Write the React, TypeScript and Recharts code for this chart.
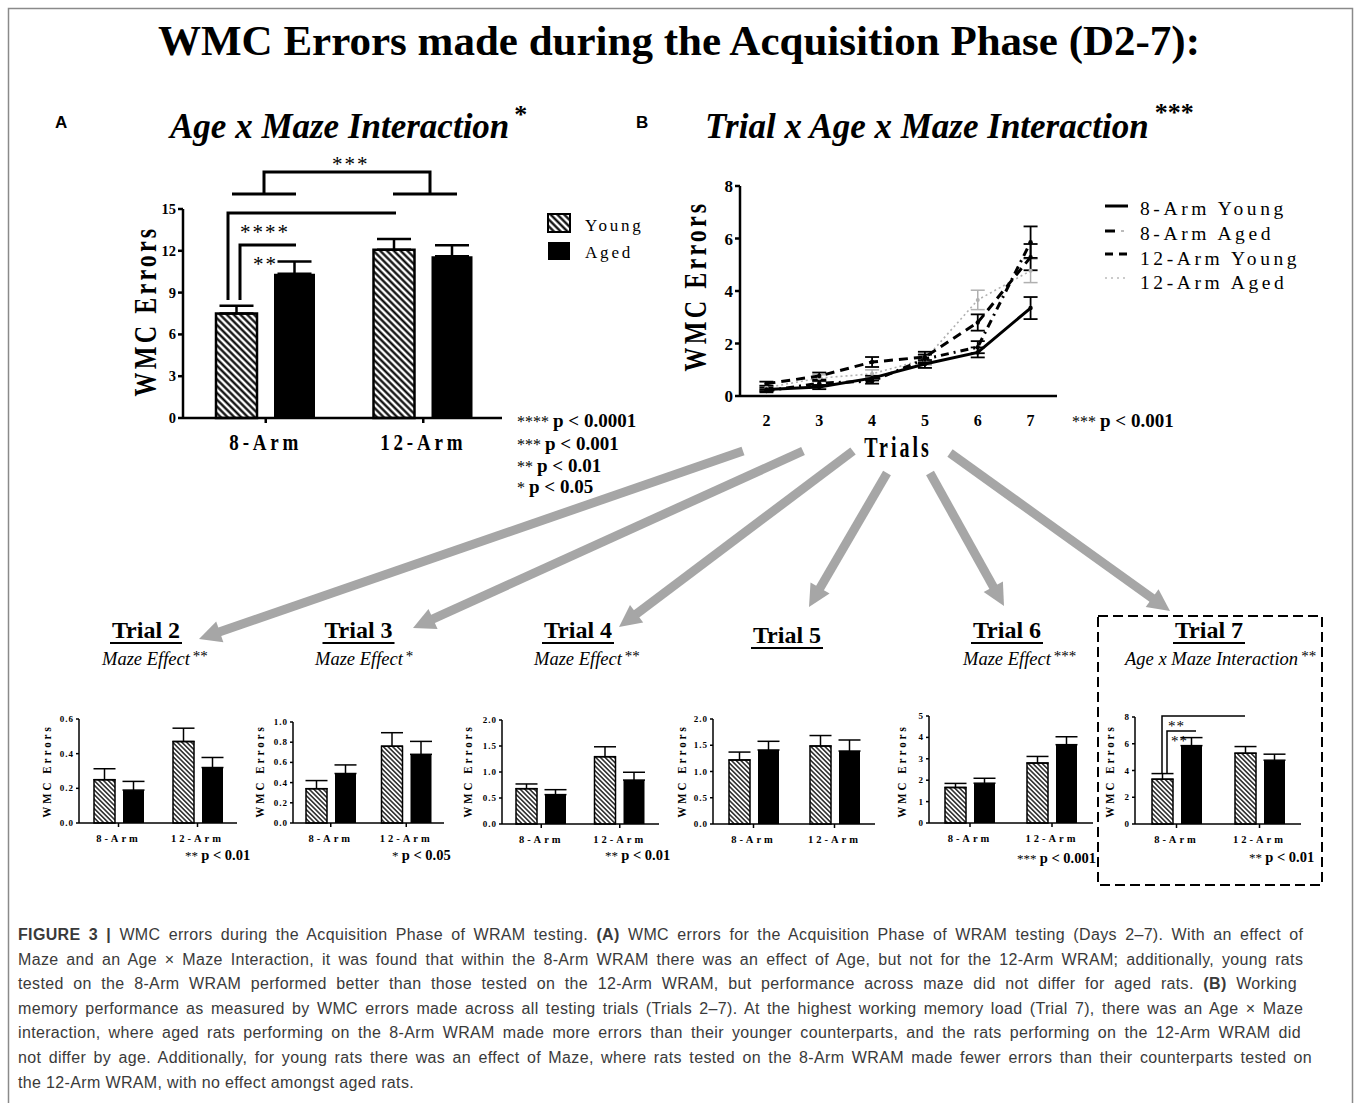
import React from "react";
import { Bar, BarChart, ErrorBar, Line, LineChart, XAxis, YAxis } from "recharts";

const SERIF = '"Liberation Serif", "Times New Roman", serif';
const SANS = '"Liberation Sans", Arial, Helvetica, sans-serif';

const groups = ["8-Arm", "12-Arm"];

// (A) whole acquisition phase, days 2-7
const acqYoung = [7.5, 12.07];
const acqYoungSem = [0.55, 0.77];
const acqAged = [10.35, 11.6];
const acqAgedSem = [0.88, 0.8];
const acqTicks = [0, 3, 6, 9, 12, 15];

// (B) per trial means and SEM
const trials = [2, 3, 4, 5, 6, 7];
const young8 = [0.25, 0.34, 0.68, 1.22, 1.66, 3.35];
const young8Sem = [0.063, 0.08, 0.09, 0.15, 0.19, 0.42];
const aged8 = [0.19, 0.49, 0.565, 1.41, 1.86, 5.86];
const aged8Sem = [0.05, 0.085, 0.095, 0.165, 0.23, 0.6];
const young12 = [0.47, 0.76, 1.295, 1.485, 2.8, 5.29];
const young12Sem = [0.077, 0.134, 0.19, 0.2, 0.31, 0.5];
const aged12 = [0.32, 0.68, 0.845, 1.39, 3.66, 4.77];
const aged12Sem = [0.058, 0.128, 0.15, 0.21, 0.37, 0.45];
const lineTicks = [0, 2, 4, 6, 8];

// small per-trial charts, Trial 2 .. Trial 7
const trialTicks = [
  [0, 0.2, 0.4, 0.6],
  [0, 0.2, 0.4, 0.6, 0.8, 1.0],
  [0, 0.5, 1.0, 1.5, 2.0],
  [0, 0.5, 1.0, 1.5, 2.0],
  [0, 1, 2, 3, 4, 5],
  [0, 2, 4, 6, 8],
];
const trialDecimals = [1, 1, 1, 1, 0, 0];
const trialEffects = ["Maze Effect", "Maze Effect", "Maze Effect", "", "Maze Effect", "Age x Maze Interaction"];
const trialStars = ["**", "*", "**", "", "***", "**"];
const trialNoteStars = ["**", "*", "**", "", "***", "**"];
const trialNotes = ["p < 0.01", "p < 0.05", "p < 0.01", "", "p < 0.001", "p < 0.01"];

const pLegendStars = ["****", "***", "**", "*"];
const pLegendText = ["p < 0.0001", "p < 0.001", "p < 0.01", "p < 0.05"];

const lineNames = ["8-Arm Young", "8-Arm Aged", "12-Arm Young", "12-Arm Aged"];

const caption: [string, boolean][][] = [
  [["FIGURE 3 | ", true], ["WMC errors during the Acquisition Phase of WRAM testing. ", false], ["(A)", true], [" WMC errors for the Acquisition Phase of WRAM testing (Days 2–7). With an effect of", false]],
  [["Maze and an Age × Maze Interaction, it was found that within the 8-Arm WRAM there was an effect of Age, but not for the 12-Arm WRAM; additionally, young rats", false]],
  [["tested on the 8-Arm WRAM performed better than those tested on the 12-Arm WRAM, but performance across maze did not differ for aged rats. ", false], ["(B)", true], [" Working", false]],
  [["memory performance as measured by WMC errors made across all testing trials (Trials 2–7). At the highest working memory load (Trial 7), there was an Age × Maze", false]],
  [["interaction, where aged rats performing on the 8-Arm WRAM made more errors than their younger counterparts, and the rats performing on the 12-Arm WRAM did", false]],
  [["not differ by age. Additionally, for young rats there was an effect of Maze, where rats tested on the 8-Arm WRAM made fewer errors than their counterparts tested on", false]],
  [["the 12-Arm WRAM, with no effect amongst aged rats.", false]],
];
// right edge of each justified caption line (0 = ragged last line)
const captionRight = [1305, 1305, 1297, 1305, 1301, 1313, 0];
const CAPTION_SIZE = 16;
const CAPTION_TRACK = 0.35;

// geometry of the small plots (page px)
const trialBoxes = [
  { left: 79, top: 719, w: 158, h: 104, ylab: 47 },
  { left: 293, top: 722, w: 151, h: 101, ylab: 260 },
  { left: 502, top: 720, w: 157, h: 104, ylab: 468 },
  { left: 713, top: 719, w: 162, h: 105, ylab: 682 },
  { left: 929, top: 716, w: 164, h: 107, ylab: 902 },
  { left: 1135, top: 717, w: 166, h: 107, ylab: 1110 },
];
const titleX = [146, 358.5, 578, 787, 1007, 1209];
const titleY = [638, 638, 638, 643, 638, 638];
const effectX = [102, 315, 534, 0, 963, 1125];
const noteX = [185, 392, 605, 0, 1017, 1249];
const noteY = [860, 860, 860, 0, 863, 862];

const acqRows = groups.map((g, i) => ({
  group: g,
  young: acqYoung[i],
  aged: acqAged[i],
  youngErr: [0, acqYoungSem[i]],
  agedErr: [0, acqAgedSem[i]],
}));

const lineRows = trials.map((t, i) => ({
  trial: t,
  young8: young8[i],
  young8Err: young8Sem[i],
  aged8: aged8[i],
  aged8Err: aged8Sem[i],
  young12: young12[i],
  young12Err: young12Sem[i],
  aged12: aged12[i],
  aged12Err: aged12Sem[i],
}));

function trialRows(i: number) {
  return [
    { group: groups[0], young: young8[i], aged: aged8[i], youngErr: [0, young8Sem[i]], agedErr: [0, aged8Sem[i]] },
    { group: groups[1], young: young12[i], aged: aged12[i], youngErr: [0, young12Sem[i]], agedErr: [0, aged12Sem[i]] },
  ];
}

// extra word spacing so a caption line is justified to its right edge
function justify(parts: [string, boolean][], right: number) {
  if (!right) return 0;
  const ctx = document.createElement("canvas").getContext("2d");
  if (!ctx) return 0;
  let w = 0;
  let spaces = 0;
  for (const [s, b] of parts) {
    ctx.font = `${b ? 700 : 400} ${CAPTION_SIZE}px "Liberation Sans"`;
    w += ctx.measureText(s).width + s.length * CAPTION_TRACK;
    spaces += (s.match(/ /g) || []).length;
  }
  return spaces ? Math.max(0, (right - 18 - w) / spaces) : 0;
}

function catTick(size: number, spacing: number, dy: number, stretch = 1) {
  return (p: any) => (
    <text
      transform={`translate(${p.x},${p.y + dy}) scale(1,${stretch})`}
      textAnchor="middle"
      fontFamily={SERIF}
      fontWeight={700}
      fontSize={size}
      letterSpacing={spacing}
      fill="#000"
    >
      {p.payload.value}
    </text>
  );
}

function numTick(size: number, spacing: number, decimals: number, anchor: "end" | "middle", dy: number) {
  return (p: any) => (
    <text
      x={p.x}
      y={p.y + dy}
      textAnchor={anchor}
      fontFamily={SERIF}
      fontWeight={700}
      fontSize={size}
      letterSpacing={spacing}
      fill="#000"
    >
      {Number(p.payload.value).toFixed(decimals)}
    </text>
  );
}

function Hatch({ id, size, width }: { id: string; size: number; width: number }) {
  return (
    <pattern id={id} width={size} height={size} patternUnits="userSpaceOnUse" patternTransform="rotate(-45)">
      <rect width={size} height={size} fill="#fff" />
      <line x1={size / 2} y1={0} x2={size / 2} y2={size} stroke="#000" strokeWidth={width} />
    </pattern>
  );
}

function TrialChart({ i }: { i: number }) {
  const b = trialBoxes[i];
  const axis = { stroke: "#000", strokeWidth: 1.5 };
  const yMax = trialTicks[i][trialTicks[i].length - 1];
  return (
    <div style={{ position: "absolute", left: b.left - 40, top: b.top - 10 }}>
      <BarChart
        width={40 + b.w + 4}
        height={10 + b.h + 28}
        data={trialRows(i)}
        margin={{ top: 10, right: 4, left: 0, bottom: 0 }}
        barSize={21}
        barGap={8}
      >
        <defs>
          <Hatch id={`hatch-t${i}`} size={3.3} width={1.3} />
        </defs>
        <XAxis
          dataKey="group"
          height={28}
          interval={0}
          axisLine={axis}
          tickLine={axis}
          tickSize={4}
          tick={catTick(10.5, 3, 13)}
        />
        <YAxis
          width={40}
          domain={[0, yMax]}
          ticks={trialTicks[i]}
          interval={0}
          axisLine={axis}
          tickLine={axis}
          tickSize={3}
          tick={numTick(9, 1, trialDecimals[i], "end", 3)}
        />
        <Bar dataKey="young" fill={`url(#hatch-t${i})`} stroke="#000" strokeWidth={1.5} isAnimationActive={false}>
          <ErrorBar dataKey="youngErr" direction="y" width={11} stroke="#000" strokeWidth={1.5} />
        </Bar>
        <Bar dataKey="aged" fill="#000" isAnimationActive={false}>
          <ErrorBar dataKey="agedErr" direction="y" width={11} stroke="#000" strokeWidth={1.5} />
        </Bar>
      </BarChart>
    </div>
  );
}

function Arrow({ from, to }: { from: [number, number]; to: [number, number] }) {
  const [x1, y1] = from;
  const [x2, y2] = to;
  const len = Math.hypot(x2 - x1, y2 - y1);
  const ux = (x2 - x1) / len;
  const uy = (y2 - y1) / len;
  const head = 22;
  const half = 11;
  const bx = x2 - ux * head;
  const by = y2 - uy * head;
  return (
    <g fill="#a6a6a6" stroke="none">
      <line x1={x1} y1={y1} x2={x2 - ux * (head - 3)} y2={y2 - uy * (head - 3)} stroke="#a6a6a6" strokeWidth={9} />
      <polygon points={`${x2},${y2} ${bx - uy * half},${by + ux * half} ${bx + uy * half},${by - ux * half}`} />
    </g>
  );
}

const arrows: [number, number][][] = [
  [[743, 451], [199, 639]],
  [[803, 451], [413, 628]],
  [[853, 451], [619, 627]],
  [[887, 473], [809, 607]],
  [[930, 473], [1004, 606]],
  [[950, 453], [1170, 611]],
];

function AxisTitle({ x, y, size, spacing, stretch, vertical, children }: any) {
  return (
    <text
      transform={`translate(${x},${y}) rotate(${vertical ? -90 : 0}) scale(1,${stretch})`}
      textAnchor="middle"
      dominantBaseline="central"
      fontFamily={SERIF}
      fontWeight={700}
      fontSize={size}
      letterSpacing={spacing}
      fill="#000"
    >
      {children}
    </text>
  );
}

export default function App() {
  const axisA = { stroke: "#000", strokeWidth: 2.5 };
  const axisB = { stroke: "#000", strokeWidth: 2.5 };
  return (
    <div style={{ position: "absolute", left: 0, top: 0, width: 1358, height: 1103, background: "#fff", overflow: "hidden" }}>
      {/* (A) */}
      <div style={{ position: "absolute", left: 183 - 50, top: 209 - 12 }}>
        <BarChart
          width={50 + 319 + 4}
          height={12 + 209 + 44}
          data={acqRows}
          margin={{ top: 12, right: 4, left: 0, bottom: 0 }}
          barSize={41}
          barGap={17}
        >
          <defs>
            <Hatch id="hatch-a" size={4.8} width={2.2} />
          </defs>
          <XAxis
            dataKey="group"
            height={44}
            interval={0}
            padding={{ left: 4, right: 0 }}
            axisLine={axisA}
            tickLine={axisA}
            tickSize={5}
            tick={catTick(19, 3.8, 25, 1.25)}
          />
          <YAxis
            width={50}
            domain={[0, 15]}
            ticks={acqTicks}
            interval={0}
            axisLine={axisA}
            tickLine={axisA}
            tickSize={5}
            tick={numTick(14.5, 0, 0, "end", 5)}
          />
          <Bar dataKey="young" fill="url(#hatch-a)" stroke="#000" strokeWidth={2.5} isAnimationActive={false}>
            <ErrorBar dataKey="youngErr" direction="y" width={17} stroke="#000" strokeWidth={2.5} />
          </Bar>
          <Bar dataKey="aged" fill="#000" isAnimationActive={false}>
            <ErrorBar dataKey="agedErr" direction="y" width={17} stroke="#000" strokeWidth={2.5} />
          </Bar>
        </BarChart>
      </div>

      {/* (B) */}
      <div style={{ position: "absolute", left: 740 - 50, top: 186 - 10 }}>
        <LineChart width={50 + 317 + 6} height={10 + 210 + 40} data={lineRows} margin={{ top: 10, right: 6, left: 0, bottom: 0 }}>
          <XAxis
            type="number"
            dataKey="trial"
            domain={[1.5, 7.5]}
            ticks={trials}
            interval={0}
            height={40}
            axisLine={axisB}
            tickLine={false}
            tick={numTick(16, 0, 0, "middle", 22)}
          />
          <YAxis
            width={50}
            domain={[0, 8]}
            ticks={lineTicks}
            interval={0}
            axisLine={axisB}
            tickLine={axisB}
            tickSize={5}
            tick={numTick(17, 0, 0, "end", 6)}
          />
          <Line type="linear" dataKey="aged12" name={lineNames[3]} stroke="#b0b0b0" strokeWidth={1.6} strokeDasharray="2 3" dot={{ r: 2, fill: "#b0b0b0", stroke: "none" }} isAnimationActive={false}>
            <ErrorBar dataKey="aged12Err" direction="y" width={7} stroke="#b0b0b0" strokeWidth={1.5} />
          </Line>
          <Line type="linear" dataKey="young12" name={lineNames[2]} stroke="#000" strokeWidth={3} strokeDasharray="9 6" dot={{ r: 2.2, fill: "#000", stroke: "none" }} isAnimationActive={false}>
            <ErrorBar dataKey="young12Err" direction="y" width={7} stroke="#000" strokeWidth={1.8} />
          </Line>
          <Line type="linear" dataKey="aged8" name={lineNames[1]} stroke="#000" strokeWidth={3} strokeDasharray="8 5 2 5" dot={{ r: 2.2, fill: "#000", stroke: "none" }} isAnimationActive={false}>
            <ErrorBar dataKey="aged8Err" direction="y" width={7} stroke="#000" strokeWidth={1.8} />
          </Line>
          <Line type="linear" dataKey="young8" name={lineNames[0]} stroke="#000" strokeWidth={3} dot={{ r: 2.2, fill: "#000", stroke: "none" }} isAnimationActive={false}>
            <ErrorBar dataKey="young8Err" direction="y" width={7} stroke="#000" strokeWidth={1.8} />
          </Line>
        </LineChart>
      </div>

      {trials.map((t, i) => (
        <TrialChart key={t} i={i} />
      ))}

      <svg width={1358} height={1103} style={{ position: "absolute", left: 0, top: 0, pointerEvents: "none" }}>
        <defs>
          <Hatch id="hatch-legend" size={4.8} width={2.2} />
        </defs>
        <rect x={8.5} y={8.5} width={1344} height={1110} fill="none" stroke="#8a8a8a" strokeWidth={1.5} />

        <text x={679} y={55} textAnchor="middle" fontFamily={SERIF} fontWeight={700} fontSize={43} fill="#000">
          WMC Errors made during the Acquisition Phase (D2-7):
        </text>

        <text x={55} y={128} fontFamily={SANS} fontWeight={700} fontSize={17} fill="#000">A</text>
        <text x={636} y={128} fontFamily={SANS} fontWeight={700} fontSize={17} fill="#000">B</text>

        <text x={170} y={138} fontFamily={SERIF} fontWeight={700} fontStyle="italic" fontSize={35} fill="#000">
          Age x Maze Interaction
          <tspan dx={5} dy={-15} fontSize={26} fontStyle="normal">*</tspan>
        </text>
        <text x={705} y={138} fontFamily={SERIF} fontWeight={700} fontStyle="italic" fontSize={35} fill="#000">
          Trial x Age x Maze Interaction
          <tspan dx={6} dy={-17} fontSize={26} fontStyle="normal">***</tspan>
        </text>

        {/* A: axis titles, legend, brackets */}
        <AxisTitle x={145} y={311} size={24} spacing={3.2} stretch={1.3} vertical>WMC Errors</AxisTitle>
        <rect x={548} y={214} width={22} height={18} fill="url(#hatch-legend)" stroke="#000" strokeWidth={2} />
        <rect x={548} y={242} width={22} height={18} fill="#000" />
        <text x={585} y={231} fontFamily={SERIF} fontSize={17} letterSpacing={2.8} fill="#000">Young</text>
        <text x={585} y={258} fontFamily={SERIF} fontSize={17} letterSpacing={2.8} fill="#000">Aged</text>

        <g fill="none" stroke="#000" strokeWidth={3}>
          <path d="M232,194 H296 M264,194 V172 H430 V194 M393,194 H457" />
          <path d="M228,300 V213 H396" />
          <path d="M240,300 V245 H296" />
        </g>
        <g fontFamily={SERIF} fontSize={21} fill="#000" letterSpacing={2}>
          <text x={332} y={171}>***</text>
          <text x={240} y={239}>****</text>
          <text x={253} y={271}>**</text>
        </g>

        {pLegendStars.map((s, k) => (
          <text key={s} x={517} y={[427, 450, 472, 493][k]} fontFamily={SERIF} fill="#000">
            <tspan fontSize={16}>{s} </tspan>
            <tspan fontSize={19} fontWeight={700}>{pLegendText[k]}</tspan>
          </text>
        ))}

        {/* B: axis titles, legend */}
        <AxisTitle x={695} y={286} size={24} spacing={3.2} stretch={1.3} vertical>WMC Errors</AxisTitle>
        <AxisTitle x={898} y={447} size={20} spacing={3} stretch={1.45}>Trials</AxisTitle>
        <text x={1072} y={427} fontFamily={SERIF} fill="#000">
          <tspan fontSize={16}>*** </tspan>
          <tspan fontSize={19} fontWeight={700}>p &lt; 0.001</tspan>
        </text>

        <g strokeWidth={3} fill="none">
          <line x1={1105} y1={206} x2={1128} y2={206} stroke="#000" />
          <line x1={1105} y1={231} x2={1115} y2={231} stroke="#000" />
          <line x1={1121} y1={231} x2={1124} y2={231} stroke="#bbb" strokeWidth={2} />
          <line x1={1105} y1={254} x2={1128} y2={254} stroke="#000" strokeDasharray="8 6" />
          <line x1={1105} y1={278} x2={1128} y2={278} stroke="#bbb" strokeWidth={1.5} strokeDasharray="2 4" />
        </g>
        {lineNames.map((n, k) => (
          <text key={n} x={1140} y={[215, 240, 265, 289][k]} fontFamily={SERIF} fontSize={19.5} letterSpacing={3.6} fill="#000">
            {n}
          </text>
        ))}

        {arrows.map((a, k) => (
          <Arrow key={k} from={a[0]} to={a[1]} />
        ))}

        {/* per-trial headings, axis titles, notes */}
        {trials.map((t, i) => (
          <g key={t}>
            <text x={titleX[i]} y={titleY[i]} textAnchor="middle" fontFamily={SERIF} fontWeight={700} fontSize={24} fill="#000">
              Trial {t}
            </text>
            <line x1={titleX[i] - 36} x2={titleX[i] + 36} y1={titleY[i] + 5} y2={titleY[i] + 5} stroke="#000" strokeWidth={2} />
            {trialEffects[i] && (
              <text x={effectX[i]} y={665} fontFamily={SERIF} fontStyle="italic" fontSize={18.5} fill="#000">
                {trialEffects[i]}
                <tspan dx={3} dy={-4} fontSize={15} fontStyle="normal">{trialStars[i]}</tspan>
              </text>
            )}
            <AxisTitle x={trialBoxes[i].ylab} y={771} size={11} spacing={3} stretch={1.2} vertical>WMC Errors</AxisTitle>
            {trialNotes[i] && (
              <text x={noteX[i]} y={noteY[i]} fontFamily={SERIF} fill="#000">
                <tspan fontSize={13}>{trialNoteStars[i]} </tspan>
                <tspan fontSize={14.5} fontWeight={700}>{trialNotes[i]}</tspan>
              </text>
            )}
          </g>
        ))}

        {/* Trial 7 comparisons and frame */}
        <g fill="none" stroke="#000" strokeWidth={1.5}>
          <path d="M1162,773 V716 H1245" />
          <path d="M1167,773 V731 H1196" />
        </g>
        <g fontFamily={SERIF} fontSize={15} fill="#000" letterSpacing={1}>
          <text x={1168} y={731}>**</text>
          <text x={1171} y={746}>**</text>
        </g>
        <rect x={1098} y={616} width={224} height={269} fill="none" stroke="#000" strokeWidth={2} strokeDasharray="10 5" />

        {caption.map((line, k) => (
          <text
            key={k}
            x={18}
            y={940 + k * 24.6}
            fontFamily={SANS}
            fontSize={CAPTION_SIZE}
            letterSpacing={CAPTION_TRACK}
            wordSpacing={justify(line, captionRight[k])}
            fill="#3a3a3a"
            style={{ whiteSpace: "pre" }}
          >
            {line.map(([s, b], j) => (
              <tspan key={j} fontWeight={b ? 700 : 400}>
                {s}
              </tspan>
            ))}
          </text>
        ))}
      </svg>
    </div>
  );
}
